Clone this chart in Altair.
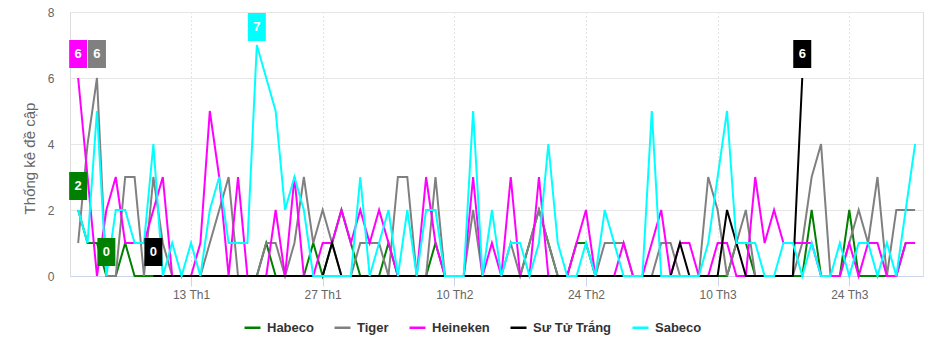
import altair as alt
import pandas as pd

# ---------------- data ----------------
start_date = "2017-01-01"
n_days = 90
dates = [d.strftime("%Y-%m-%d") for d in pd.date_range(start_date, periods=n_days, freq="D")]

series_names = ["Habeco", "Tiger", "Heineken", "Sư Tử Trắng", "Sabeco"]
series_colors = ["#008000", "#808080", "#ff00ff", "#000000", "#00ffff"]

habeco = [2, 1, 1, 0, 0, 1, 0, 0, 0, 0,
          0, 0, 0, 0, 0, 0, 0, 0, 0, 0,
          1, 0, 0, 0, 0, 1, 0, 1, 2, 1,
          0, 0, 0, 1, 0, 0, 0, 0, 1, 0,
          0, 0, 0, 0, 0, 0, 0, 0, 1, 2,
          1, 0, 0, 1, 1, 0, 0, 0, 0, 0,
          0, 0, 0, 0, 0, 0, 0, 0, 0, 0,
          1, 1, 0, 0, 0, 0, 0, 0, 2, 0,
          0, 0, 2, 0, 0, 0, 0, 0, 1, 1]

tiger = [1, 4, 6, 0, 0, 3, 3, 0, 3, 1,
         0, 0, 0, 0, 1, 2, 3, 0, 0, 0,
         1, 1, 0, 1, 3, 1, 2, 1, 0, 0,
         1, 1, 1, 0, 3, 3, 0, 0, 3, 0,
         0, 0, 2, 0, 0, 0, 1, 0, 1, 2,
         1, 0, 0, 0, 0, 0, 1, 1, 1, 0,
         0, 0, 1, 1, 0, 0, 0, 3, 2, 0,
         1, 2, 0, 0, 0, 0, 0, 1, 3, 4,
         0, 0, 1, 2, 1, 3, 0, 2, 2, 2]

heineken = [6, 3, 0, 2, 3, 1, 1, 1, 2, 3,
            0, 0, 0, 1, 5, 3, 0, 3, 0, 0,
            0, 2, 0, 3, 0, 0, 1, 1, 2, 1,
            2, 1, 2, 1, 0, 0, 0, 3, 1, 0,
            0, 0, 3, 0, 1, 0, 3, 0, 0, 3,
            0, 0, 0, 1, 2, 0, 0, 0, 1, 0,
            0, 1, 2, 0, 1, 1, 0, 0, 1, 1,
            0, 0, 3, 1, 2, 1, 1, 1, 1, 0,
            0, 0, 1, 0, 1, 1, 0, 0, 1, 1]

# Sư Tử Trắng starts on day index 8 (9 Th1) and ends on day index 77 (19 Th3)
su_tu_trang_start = 8
su_tu_trang = [0, 0, 0, 0, 0, 0, 0, 0, 0, 0,
               0, 0, 0, 0, 0, 0, 0, 0, 0, 1,
               0, 0, 0, 0, 0, 0, 0, 0, 0, 0,
               0, 0, 0, 0, 0, 0, 0, 0, 0, 0,
               0, 0, 0, 0, 0, 0, 0, 0, 0, 0,
               0, 0, 0, 0, 0, 0, 1, 0, 0, 0,
               0, 2, 1, 0, 0, 0, 0, 0, 0, 6]

sabeco = [2, 1, 5, 0, 2, 2, 1, 1, 4, 0,
          1, 0, 1, 0, 2, 3, 1, 1, 1, 7,
          6, 5, 2, 3, 2, 0, 0, 0, 0, 0,
          3, 0, 1, 2, 0, 2, 0, 2, 2, 0,
          0, 0, 5, 0, 2, 0, 1, 1, 0, 1,
          4, 1, 0, 0, 1, 0, 2, 1, 0, 0,
          0, 5, 0, 0, 0, 0, 0, 1, 3, 5,
          1, 1, 1, 0, 0, 1, 1, 0, 1, 0,
          0, 1, 0, 1, 1, 0, 1, 0, 2, 4]

# highlighted data labels
label_series = ["Heineken", "Tiger", "Habeco", "Habeco", "Sư Tử Trắng", "Sabeco", "Sư Tử Trắng"]
label_day = [0, 2, 0, 3, 8, 19, 77]
label_value = [6, 6, 2, 0, 0, 7, 6]

tick_dates = ["2017-01-13", "2017-01-27", "2017-02-10", "2017-02-24", "2017-03-10", "2017-03-24"]
y_ticks = [0, 2, 4, 6, 8]
y_title = "Thống kê đề cập"

# ---------------- tables ----------------
rows = []
for name, vals, off in [("Habeco", habeco, 0), ("Tiger", tiger, 0), ("Heineken", heineken, 0),
                        ("Sư Tử Trắng", su_tu_trang, su_tu_trang_start), ("Sabeco", sabeco, 0)]:
    for i, v in enumerate(vals):
        rows.append({"date": dates[off + i], "series": name, "value": v})
df = pd.DataFrame(rows)

lab_df = pd.DataFrame({
    "date": [dates[d] for d in label_day],
    "series": label_series,
    "value": label_value,
})


def ms(s):
    return int(pd.Timestamp(s, tz="UTC").value // 10**6)


DAY = 86400000
x_domain = [ms(dates[0]) - int(0.867 * DAY), ms(dates[-1]) + int(0.84 * DAY)]
tick_ms = [ms(t) for t in tick_dates]

FONT = "Liberation Sans"

x_scale = alt.Scale(type="utc", domain=x_domain)
y_scale = alt.Scale(domain=[0, 8], nice=False)
color_scale = alt.Scale(domain=series_names, range=series_colors)

x_axis = alt.Axis(values=tick_ms, labelExpr="utcdate(datum.value) + ' Th' + (utcmonth(datum.value) + 1)",
                  grid=True, gridColor="#c8c8c8", gridDash=[1, 3], gridWidth=1,
                  domainColor="#ccd6eb", tickColor="#ccd6eb", tickSize=10,
                  labelColor="#666666", labelFontSize=12, labelPadding=3, labelFont=FONT,
                  title=None)
y_axis = alt.Axis(values=y_ticks, grid=True, gridColor="#e6e6e6", domain=False, ticks=False,
                  labelColor="#666666", labelFontSize=12, labelPadding=16, labelFont=FONT,
                  title=y_title, titleColor="#666666", titleFontSize=15, titleFontWeight="normal",
                  titleFont=FONT, titleAngle=270, titleX=-41, titleY=146, titleAlign="center",
                  titleBaseline="middle")

legend = alt.Legend(title=None, orient="none", legendX=173, legendY=306, direction="horizontal",
                    symbolType="stroke", symbolSize=256, symbolStrokeWidth=2.5,
                    labelFont=FONT, labelFontSize=13, labelFontWeight="bold", labelColor="#333333",
                    labelOffset=5, columnPadding=15, padding=0)

layers = []
for s in series_names:
    layers.append(
        alt.Chart(df).transform_filter(alt.datum.series == s).mark_line(strokeWidth=2).encode(
            x=alt.X("date:T", scale=x_scale, axis=x_axis),
            y=alt.Y("value:Q", scale=y_scale, axis=y_axis),
            color=alt.Color("series:N", scale=color_scale, legend=legend),
        )
    )

box_top = "min(datum.value + 38/33, 8 - 1/33)"
boxes = alt.Chart(lab_df).transform_calculate(
    top=box_top,
    bot=f"{box_top} - 28/33",
).mark_rect(xOffset=-9, x2Offset=9).encode(
    x=alt.X("date:T", scale=x_scale),
    x2="date:T",
    y=alt.Y("top:Q", scale=y_scale),
    y2="bot:Q",
    color=alt.Color("series:N", scale=color_scale, legend=legend),
)
texts = alt.Chart(lab_df).transform_calculate(
    mid=f"{box_top} - 14/33",
).mark_text(color="white", fontWeight="bold", fontSize=13, font=FONT, baseline="middle", align="center").encode(
    x=alt.X("date:T", scale=x_scale),
    y=alt.Y("mid:Q", scale=y_scale),
    text=alt.Text("value:Q"),
)

chart = alt.layer(*layers, boxes, texts).properties(
    width=853, height=264,
    autosize=alt.AutoSizeParams(type="none"),
    padding={"left": 70, "top": 12, "right": 22, "bottom": 75},
).configure_view(stroke=None).configure(background="white")

chart.save("out.html", embed_options={"renderer": "svg", "actions": False})
